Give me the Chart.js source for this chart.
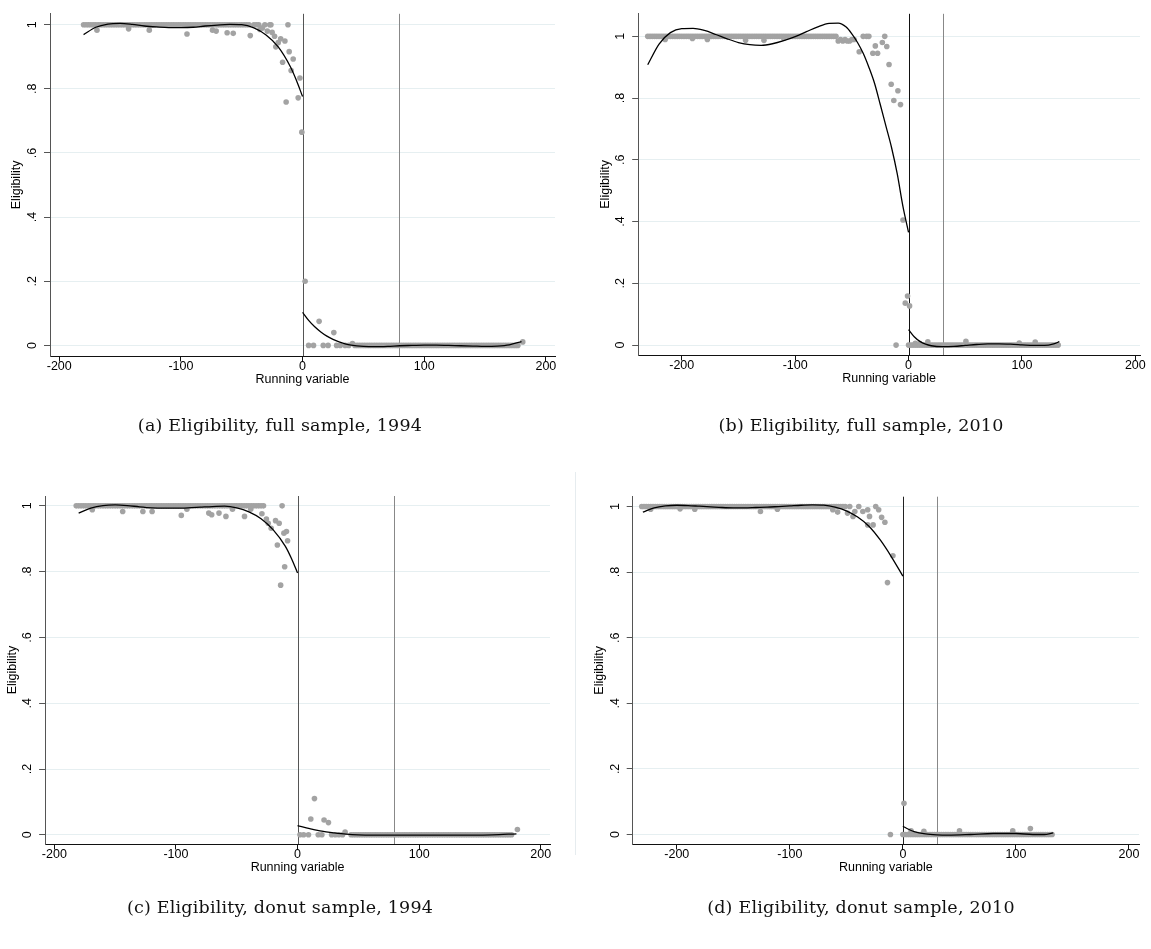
<!DOCTYPE html>
<html>
<head>
<meta charset="utf-8">
<title>Eligibility around the cutoff</title>
<script src="https://cdn.jsdelivr.net/npm/chart.js@4.4.1/dist/chart.umd.min.js"></script>
<style>
  html, body { margin: 0; padding: 0; background: #fff; }
  #page { position: relative; width: 1151px; height: 949px; overflow: hidden; background: #fff; }
  #page canvas { position: absolute; }
  .caption {
    position: absolute; width: 600px; text-align: center; white-space: nowrap;
    font-family: "DejaVu Serif", serif; font-size: 17.5px; line-height: 17.5px;
    letter-spacing: 0.2px; color: #111;
  }
  .seam { position: absolute; left: 575px; top: 472px; width: 1px; height: 383px; background: #e6ecef; }
</style>
</head>
<body>
<div id="page">
  <canvas id="chart-a" width="575" height="440"></canvas>
  <canvas id="chart-b" width="575" height="440"></canvas>
  <canvas id="chart-c" width="575" height="440"></canvas>
  <canvas id="chart-d" width="575" height="440"></canvas>
  <div class="seam"></div>
  <div class="caption" id="cap-a">(a) Eligibility, full sample, 1994</div>
  <div class="caption" id="cap-b">(b) Eligibility, full sample, 2010</div>
  <div class="caption" id="cap-c">(c) Eligibility, donut sample, 1994</div>
  <div class="caption" id="cap-d">(d) Eligibility, donut sample, 2010</div>
</div>
<script>
// shared axes
const xTicks = [-200, -100, 0, 100, 200];
const yTicks = [0, 0.2, 0.4, 0.6, 0.8, 1];
const yTickLabels = ["0", ".2", ".4", ".6", ".8", "1"];
const xTitle = "Running variable";
const yTitle = "Eligibility";

// (a) full sample, 1994
const a_onesX = [-180,-178,-176,-174,-172,-170,-168,-166,-164,-162,-160,-158,-156,-154,-152,-150,-148,-146,-144,-142,-140,-138,-136,-134,-132,-130,-128,-126,-124,-122,-120,-118,-116,-114,-112,-110,-108,-106,-104,-102,-100,-98,-96,-94,-92,-90,-88,-86,-84,-82,-80,-78,-76,-74,-72,-70,-68,-66,-64,-62,-60,-58,-56,-54,-52,-50,-48,-46,-44,-40,-38,-36,-31,-27,-26,-12];
const a_zerosX = [5,9,17,21,28,31,35,38,43,45,47,49,51,53,55,57,59,61,63,65,67,69,71,73,75,77,79,81,83,85,87,89,91,93,95,97,99,101,103,105,107,109,111,113,115,117,119,121,123,125,127,129,131,133,135,137,139,141,143,145,147,149,151,153,155,157,159,161,163,165,167,169,171,173,175,177];
const a_binX = [-169,-143,-126,-95,-74,-71,-62,-57,-43,-35,-33,-29,-25,-23,-22,-20,-18,-14.5,-16.4,-11,-7.7,-9.4,-13.5,-2.2,-3.6,-0.6,2.1,13.6,25.7,41,181];
const a_binY = [0.983,0.987,0.983,0.971,0.983,0.98,0.975,0.973,0.966,0.985,0.99,0.98,0.976,0.964,0.931,0.944,0.956,0.949,0.883,0.916,0.893,0.857,0.759,0.834,0.772,0.665,0.2,0.075,0.04,0.006,0.011];
const a_fitLeftX = [-180,-170,-160,-150,-140,-130,-120,-110,-100,-90,-80,-70,-60,-50,-40,-30,-20,-10,-5,0];
const a_fitLeftY = [0.969,0.992,1.002,1.004,1.001,0.996,0.993,0.991,0.991,0.992,0.996,0.999,1.001,1.0,0.99,0.968,0.931,0.869,0.826,0.776];
const a_fitRightX = [0,5,10,15,20,25,30,35,40,50,60,70,80,90,100,110,120,130,140,150,160,170,180];
const a_fitRightY = [0.103,0.078,0.058,0.042,0.029,0.019,0.011,0.005,0.001,-0.003,-0.004,-0.003,-0.001,0,0.001,0.001,0,-0.001,-0.002,-0.003,-0.002,0.002,0.012];
const a_cutoffs = [0, 79];

// (b) full sample, 2010
const b_onesX = [-230,-228,-226,-224,-222,-220,-218,-216,-214,-212,-210,-208,-206,-204,-202,-200,-198,-196,-194,-192,-190,-188,-186,-184,-182,-180,-178,-176,-174,-172,-170,-168,-166,-164,-162,-160,-158,-156,-154,-152,-150,-148,-146,-144,-142,-140,-138,-136,-134,-132,-130,-128,-126,-124,-122,-120,-118,-116,-114,-112,-110,-108,-106,-104,-102,-100,-98,-96,-94,-92,-90,-88,-86,-84,-82,-80,-78,-76,-74,-72,-70,-68,-66,-64,-40,-37,-35,-21];
const b_zerosX = [-11,0,2,4,6,8,10,12,14,16,18,20,22,24,26,28,30,32,34,36,38,40,42,44,46,48,50,52,54,56,58,60,62,64,66,68,70,72,74,76,78,80,82,84,86,88,90,92,94,96,98,100,102,104,106,108,110,112,114,116,118,120,122,124,126,128,130,132];
const b_binX = [-214.6,-190.6,-177.4,-143.7,-127.5,-110,-62,-60,-58,-56,-54,-52,-50,-48,-43.5,-31.5,-29.3,-27.3,-23.1,-19.2,-17.2,-15.3,-13,-9.4,-7.1,-4.9,-2.9,-0.9,0.9,6,10,17,50.6,97.6,111.7];
const b_binY = [0.99,0.993,0.99,0.987,0.987,0.994,0.985,0.99,0.985,0.99,0.985,0.985,0.99,0.99,0.95,0.945,0.969,0.945,0.98,0.967,0.909,0.845,0.792,0.824,0.779,0.405,0.136,0.159,0.127,0.006,0.005,0.011,0.012,0.007,0.01];
const b_fitLeftX = [-230,-220,-210,-200,-190,-180,-170,-160,-150,-140,-130,-120,-110,-100,-90,-80,-70,-62,-55,-50,-45,-40,-35,-30,-25,-20,-15,-10,-5,0];
const b_fitLeftY = [0.908,0.975,1.012,1.025,1.026,1.019,1.006,0.992,0.98,0.973,0.971,0.976,0.986,0.999,1.015,1.031,1.042,1.043,1.03,1.008,0.98,0.945,0.9,0.848,0.78,0.71,0.64,0.555,0.45,0.365];
const b_fitRightX = [0,5,10,15,20,30,40,50,60,70,80,90,100,110,120,128,133];
const b_fitRightY = [0.05,0.027,0.012,0.003,-0.002,-0.005,-0.004,-0.001,0.002,0.004,0.004,0.003,0.001,-0.001,-0.001,0.004,0.011];
const b_cutoffs = [0, 30];

// (c) donut sample, 1994
const c_onesX = [-182,-180,-178,-176,-174,-172,-170,-168,-166,-164,-162,-160,-158,-156,-154,-152,-150,-148,-146,-144,-142,-140,-138,-136,-134,-132,-130,-128,-126,-124,-122,-120,-118,-116,-114,-112,-110,-108,-106,-104,-102,-100,-98,-96,-94,-92,-90,-88,-86,-84,-82,-80,-78,-76,-74,-72,-70,-68,-66,-64,-62,-60,-58,-56,-54,-52,-50,-48,-46,-44,-42,-40,-38,-36,-34,-32,-30,-28,-12.7];
const c_zerosX = [2,5,9,17,20,28,31,34,37,44,46,48,50,52,54,56,58,60,62,64,66,68,70,72,74,76,78,80,82,84,86,88,90,92,94,96,98,100,102,104,106,108,110,112,114,116,118,120,122,124,126,128,130,132,134,136,138,140,142,144,146,148,150,152,154,156,158,160,162,164,166,168,170,172,174,176];
const c_binX = [-168.8,-143.8,-127.2,-119.6,-95.6,-91,-73,-70.6,-64.6,-58.9,-53.5,-43.6,-38.5,-29.3,-25.6,-24.1,-21.7,-18.1,-15.1,-16.6,-11.2,-9.1,-8.2,-10.6,-13.9,10.9,13.9,21.8,25.4,39.1,180.8];
const c_binY = [0.988,0.983,0.983,0.983,0.971,0.99,0.978,0.973,0.978,0.968,0.99,0.968,0.99,0.976,0.96,0.947,0.932,0.955,0.947,0.881,0.917,0.922,0.894,0.815,0.759,0.048,0.11,0.045,0.037,0.008,0.016];
const c_fitLeftX = [-180,-170,-160,-150,-140,-130,-120,-110,-100,-90,-80,-70,-60,-50,-40,-30,-20,-10,-5,0];
const c_fitLeftY = [0.978,0.993,1.001,1.003,1.001,0.997,0.994,0.993,0.993,0.994,0.996,0.998,0.999,0.994,0.982,0.961,0.927,0.877,0.84,0.796];
const c_fitRightX = [0,10,20,30,40,50,80,120,160,180];
const c_fitRightY = [0.028,0.019,0.011,0.006,0.002,0,-0.001,-0.001,0,0.003];
const c_cutoffs = [0, 79];

// (d) donut sample, 2010
const d_onesX = [-231,-229,-227,-225,-223,-221,-219,-217,-215,-213,-211,-209,-207,-205,-203,-201,-199,-197,-195,-193,-191,-189,-187,-185,-183,-181,-179,-177,-175,-173,-171,-169,-167,-165,-163,-161,-159,-157,-155,-153,-151,-149,-147,-145,-143,-141,-139,-137,-135,-133,-131,-129,-127,-125,-123,-121,-119,-117,-115,-113,-111,-109,-107,-105,-103,-101,-99,-97,-95,-93,-91,-89,-87,-85,-83,-81,-79,-77,-75,-73,-71,-69,-67,-65,-63,-61,-59,-57,-55,-53,-51,-47,-39,-24];
const d_zerosX = [-11,0,2,4,6,8,10,12,14,16,18,20,22,24,26,28,30,32,34,36,38,40,42,44,46,48,50,52,54,56,58,60,62,64,66,68,70,72,74,76,78,80,82,84,86,88,90,92,94,96,98,100,102,104,106,108,110,112,114,116,118,120,122,124,126,128,130,132];
const d_binX = [-223.1,-197.1,-184.1,-126,-111,-62,-57.7,-49,-44.1,-42.5,-35.4,-31.1,-29.5,-26.3,-31.1,-21.4,-18.8,-15.9,-8.8,-13.6,1,7.2,18.6,50.1,97.2,112.8];
const d_binY = [0.992,0.993,0.992,0.985,0.992,0.99,0.983,0.98,0.97,0.985,0.985,0.99,0.97,0.944,0.944,0.99,0.967,0.952,0.85,0.768,0.095,0.011,0.01,0.011,0.011,0.018];
const d_fitLeftX = [-230,-220,-210,-200,-190,-180,-170,-160,-150,-140,-130,-120,-110,-100,-90,-80,-70,-60,-50,-40,-30,-20,-10,0];
const d_fitLeftY = [0.983,0.996,1.002,1.004,1.003,1.001,0.999,0.997,0.996,0.996,0.997,0.998,1.0,1.002,1.004,1.005,1.004,0.998,0.987,0.968,0.94,0.898,0.846,0.788];
const d_fitRightX = [0,5,10,20,30,40,60,80,100,115,125,133];
const d_fitRightY = [0.025,0.016,0.009,0.002,-0.001,-0.002,0,0.003,0.003,0,0,0.005];
const d_cutoffs = [0, 30];

const AXIS_FONT = { family: "'Liberation Sans', Arial, sans-serif", size: 12.5, lineHeight: 1.2 };
const Y_AXIS_W = 44;
const X_AXIS_H = 54;
const CANVAS_W = 575;
const CANVAS_H = 440;

const panels = [
  { id: "chart-a", left: 0, top: 0, plot: { l: 50, r: 555, t: 7.3, b: 356 },
    xRange: [-207.6, 207.5], yRange: [-0.033, 1.034], lineColors: ["#555", "#888"],
    onesX: a_onesX, zerosX: a_zerosX, binX: a_binX, binY: a_binY,
    fitL: [a_fitLeftX, a_fitLeftY], fitR: [a_fitRightX, a_fitRightY], cutoffs: a_cutoffs },
  { id: "chart-b", left: 575, top: 0, plot: { l: 638.2, r: 1140, t: 7.3, b: 355 },
    xRange: [-238.4, 204.1], yRange: [-0.032, 1.073], lineColors: ["#111", "#888"],
    onesX: b_onesX, zerosX: b_zerosX, binX: b_binX, binY: b_binY,
    fitL: [b_fitLeftX, b_fitLeftY], fitR: [b_fitRightX, b_fitRightY], cutoffs: b_cutoffs },
  { id: "chart-c", left: 0, top: 470, plot: { l: 45.1, r: 550, t: 496, b: 844 },
    xRange: [-207.6, 207.6], yRange: [-0.028, 1.03], lineColors: ["#555", "#888"],
    onesX: c_onesX, zerosX: c_zerosX, binX: c_binX, binY: c_binY,
    fitL: [c_fitLeftX, c_fitLeftY], fitR: [c_fitRightX, c_fitRightY], cutoffs: c_cutoffs },
  { id: "chart-d", left: 575, top: 470, plot: { l: 632.7, r: 1139, t: 496.7, b: 844 },
    xRange: [-239, 208.9], yRange: [-0.029, 1.03], lineColors: ["#222", "#888"],
    onesX: d_onesX, zerosX: d_zerosX, binX: d_binX, binY: d_binY,
    fitL: [d_fitLeftX, d_fitLeftY], fitR: [d_fitRightX, d_fitRightY], cutoffs: d_cutoffs },
];

const captions = [
  { id: "cap-a", cx: 280, baseline: 432 },
  { id: "cap-b", cx: 861, baseline: 432 },
  { id: "cap-c", cx: 280, baseline: 914 },
  { id: "cap-d", cx: 861, baseline: 914 },
];

// vertical reference lines at the cutoff and the second threshold
const cutoffLines = {
  id: "cutoffLines",
  beforeDatasetsDraw(chart, args, opts) {
    const { ctx, chartArea, scales } = chart;
    ctx.save();
    opts.values.forEach((v, i) => {
      const px = Math.round(scales.x.getPixelForValue(v)) + 0.5;
      ctx.strokeStyle = opts.colors[i];
      ctx.lineWidth = 1;
      ctx.beginPath();
      ctx.moveTo(px, chartArea.top);
      ctx.lineTo(px, chartArea.bottom);
      ctx.stroke();
    });
    ctx.restore();
  },
};

function toPoints(xs, ys) {
  return xs.map((x, i) => ({ x, y: ys[i] }));
}

function atLevel(xs, level) {
  return xs.map((x) => ({ x, y: level }));
}

function fitDataset(xs, ys) {
  return {
    data: toPoints(xs, ys),
    showLine: true,
    borderColor: "#000",
    borderWidth: 1.3,
    pointRadius: 0,
    cubicInterpolationMode: "monotone",
    fill: false,
    order: 0,
  };
}

function renderPanel(p) {
  const canvas = document.getElementById(p.id);
  canvas.style.left = p.left + "px";
  canvas.style.top = p.top + "px";

  const padding = {
    left: p.plot.l - Y_AXIS_W - p.left,
    right: p.left + CANVAS_W - p.plot.r,
    top: p.plot.t - p.top,
    bottom: p.top + CANVAS_H - p.plot.b - X_AXIS_H,
  };

  const bins = [
    ...atLevel(p.onesX, 1),
    ...atLevel(p.zerosX, 0),
    ...toPoints(p.binX, p.binY),
  ];

  new Chart(canvas, {
    type: "scatter",
    data: {
      datasets: [
        fitDataset(p.fitL[0], p.fitL[1]),
        fitDataset(p.fitR[0], p.fitR[1]),
        {
          data: bins,
          backgroundColor: "#a3a3a3",
          borderWidth: 0,
          pointRadius: 2.8,
          order: 1,
        },
      ],
    },
    options: {
      responsive: false,
      animation: false,
      devicePixelRatio: 1,
      layout: { padding, autoPadding: false },
      plugins: {
        legend: { display: false },
        tooltip: { enabled: false },
        cutoffLines: { values: p.cutoffs, colors: p.lineColors },
      },
      scales: {
        x: {
          type: "linear",
          min: p.xRange[0],
          max: p.xRange[1],
          afterBuildTicks: (s) => { s.ticks = xTicks.map((v) => ({ value: v })); },
          afterFit: (s) => { s.height = X_AXIS_H; },
          border: { color: "#111", width: 1 },
          grid: { drawOnChartArea: false, drawTicks: true, tickLength: 5.5, tickColor: "#111" },
          ticks: {
            color: "#000", font: AXIS_FONT, padding: -2, maxRotation: 0, autoSkip: false,
            callback: (v) => String(v),
          },
          title: {
            display: true, text: xTitle, color: "#000", font: AXIS_FONT,
            padding: { top: 0, bottom: 22.5 },
          },
        },
        y: {
          type: "linear",
          min: p.yRange[0],
          max: p.yRange[1],
          afterBuildTicks: (s) => { s.ticks = yTicks.map((v) => ({ value: v })); },
          afterFit: (s) => { s.width = Y_AXIS_W; },
          border: { color: "#555", width: 1 },
          grid: { color: "#e6eff1", lineWidth: 1, tickColor: "#555", tickLength: 6 },
          ticks: {
            color: "#000", font: AXIS_FONT, padding: 6.3,
            minRotation: 90, maxRotation: 90, crossAlign: "center",
            callback: (v) => yTickLabels[yTicks.indexOf(v)],
          },
          title: {
            display: true, text: yTitle, color: "#000", font: AXIS_FONT,
            padding: { top: 3.5, bottom: 0 },
          },
        },
      },
    },
    plugins: [cutoffLines],
  });
}

panels.forEach(renderPanel);

// captions: centred on cx, baseline placed at the given y
captions.forEach((c) => {
  const el = document.getElementById(c.id);
  el.style.left = (c.cx - 300) + "px";
  el.style.top = (c.baseline - 14.8) + "px";
});
</script>
</body>
</html>
